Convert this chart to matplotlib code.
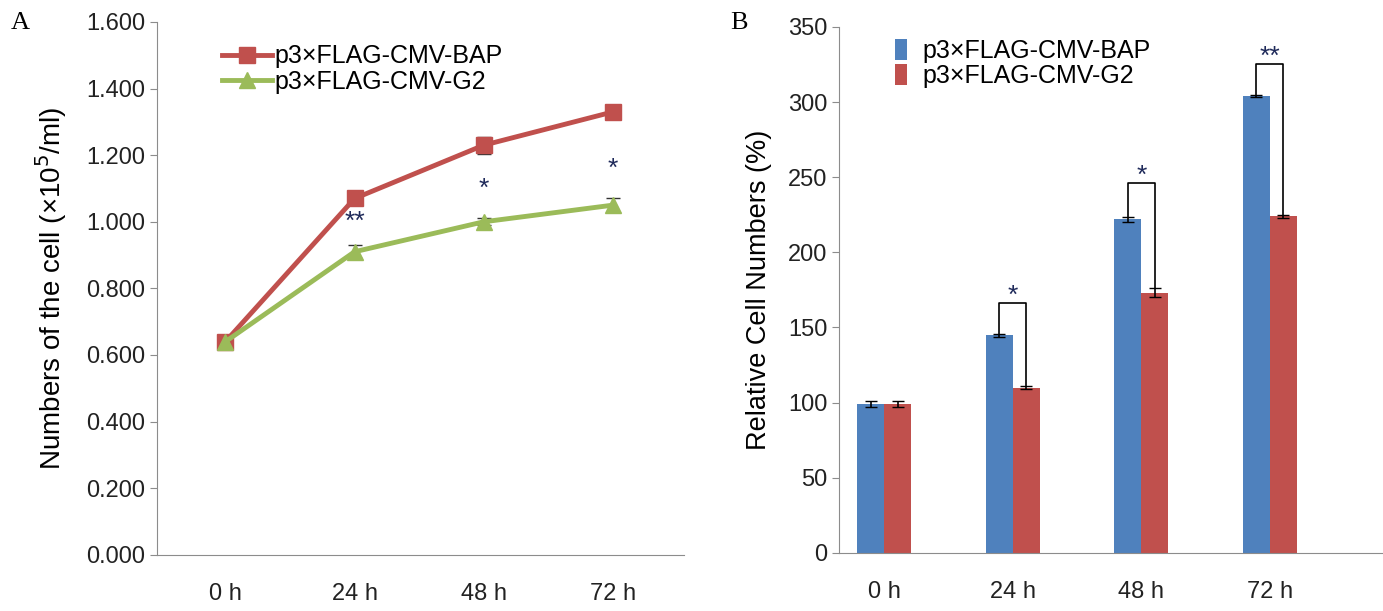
import numpy as np
import matplotlib.pyplot as plt
from matplotlib import font_manager

names = {f.name for f in font_manager.fontManager.ttflist}
narrow = 'Liberation Sans Narrow' if 'Liberation Sans Narrow' in names else 'Liberation Sans'
plt.rcParams['font.family'] = ['Liberation Sans', 'DejaVu Sans']

hours = ['0 h', '24 h', '48 h', '72 h']
labels = ['p3×FLAG-CMV-BAP', 'p3×FLAG-CMV-G2']

# panel A: cell counts (x10^5/ml)
bap_count = [0.64, 1.07, 1.23, 1.33]
bap_count_err = [0.005, 0.01, 0.025, 0.02]
g2_count = [0.64, 0.91, 1.00, 1.05]
g2_count_err = [0.005, 0.02, 0.01, 0.02]
count_stars = ['', '**', '*', '*']
count_star_y = [0, 1.0, 1.1, 1.16]

# panel B: relative cell numbers (%)
bap_rel = [99, 145, 222, 304]
bap_rel_err = [2, 1, 1.5, 0.5]
g2_rel = [99, 110, 173, 224]
g2_rel_err = [2, 1, 3, 1]
rel_stars = ['', '*', '*', '**']
rel_bracket_y = [0, 166, 246, 325]

red = '#C0504D'
green = '#9BBB59'
blue = '#4F81BD'
star_col = '#1F2A5A'
grey = '#8C8C8C'

fig = plt.figure(figsize=(13.83, 6.11), dpi=100)
axA = fig.add_axes([0.1135, 0.092, 0.381, 0.872])
axB = fig.add_axes([0.607, 0.095, 0.392, 0.861])

x = np.arange(len(hours))

# ---- A
axA.errorbar(x, bap_count, yerr=bap_count_err, fmt='none', ecolor='#333333',
             elinewidth=1.2, capsize=5, zorder=2)
axA.errorbar(x, g2_count, yerr=g2_count_err, fmt='none', ecolor='#333333',
             elinewidth=1.2, capsize=5, zorder=2)
axA.plot(x, bap_count, color=red, lw=3.5, marker='s', ms=12, label=labels[0], zorder=3)
axA.plot(x, g2_count, color=green, lw=3.5, marker='^', ms=12, label=labels[1], zorder=3)
for i in x:
    if count_stars[i]:
        axA.text(i, count_star_y[i], count_stars[i], ha='center', va='center',
                 fontsize=19, color=star_col)
axA.set_xlim(-0.53, 3.55)
axA.set_ylim(0, 1.6)
axA.set_yticks(np.arange(0, 1.61, 0.2))
axA.set_yticklabels(['%.3f' % v for v in np.arange(0, 1.61, 0.2)], family=narrow)
axA.set_xticks(x)
axA.set_xticklabels(hours, family=narrow)
axA.set_ylabel('Numbers of the cell (×10$^5$/ml)', fontsize=20, labelpad=12)
leg = axA.legend(loc='upper left', bbox_to_anchor=(0.08, 1.0), frameon=False,
                 fontsize=18, handlelength=2.0, handletextpad=0.1, labelspacing=0.05)
for t in leg.get_texts():
    t.set_family(narrow)
fig.text(0.008, 0.952, 'A', family='Liberation Serif', fontsize=19)

# ---- B
w = 0.21
axB.bar(x - w / 2, bap_rel, w, color=blue, label=labels[0], zorder=2)
axB.bar(x + w / 2, g2_rel, w, color=red, label=labels[1], zorder=2)
axB.errorbar(x - w / 2, bap_rel, yerr=bap_rel_err, fmt='none', ecolor='black',
             elinewidth=1.2, capsize=4, zorder=3)
axB.errorbar(x + w / 2, g2_rel, yerr=g2_rel_err, fmt='none', ecolor='black',
             elinewidth=1.2, capsize=4, zorder=3)
for i in x:
    if rel_stars[i]:
        yb = rel_bracket_y[i]
        axB.plot([i - w / 2, i - w / 2, i + w / 2, i + w / 2],
                 [bap_rel[i] + bap_rel_err[i], yb, yb, g2_rel[i] + g2_rel_err[i]],
                 color='black', lw=1.2, zorder=3)
        axB.text(i, yb - 3, rel_stars[i], ha='center', va='bottom',
                 fontsize=19, color=star_col)
axB.set_xlim(-0.35, 3.87)
axB.set_ylim(0, 350)
axB.set_yticks(np.arange(0, 351, 50))
axB.set_yticklabels([str(v) for v in range(0, 351, 50)], family=narrow)
axB.set_xticks(x)
axB.set_xticklabels(hours, family=narrow)
axB.set_ylabel('Relative Cell Numbers (%)', fontsize=19.5, labelpad=12)
leg = axB.legend(loc='upper left', bbox_to_anchor=(0.06, 1.02), frameon=False,
                 fontsize=18, handlelength=0.5, handleheight=0.9, handletextpad=0.6,
                 labelspacing=0.05)
for t in leg.get_texts():
    t.set_family(narrow)
fig.text(0.528, 0.952, 'B', family='Liberation Serif', fontsize=19)

for ax in (axA, axB):
    ax.spines['top'].set_visible(False)
    ax.spines['right'].set_visible(False)
    ax.spines['left'].set_color(grey)
    ax.spines['bottom'].set_color(grey)
    ax.tick_params(axis='y', colors=grey, labelcolor='#222222', labelsize=17, length=5)
    ax.tick_params(axis='x', length=0, labelcolor='#222222', labelsize=17, pad=20)

fig.savefig('out.png', dpi=100)
